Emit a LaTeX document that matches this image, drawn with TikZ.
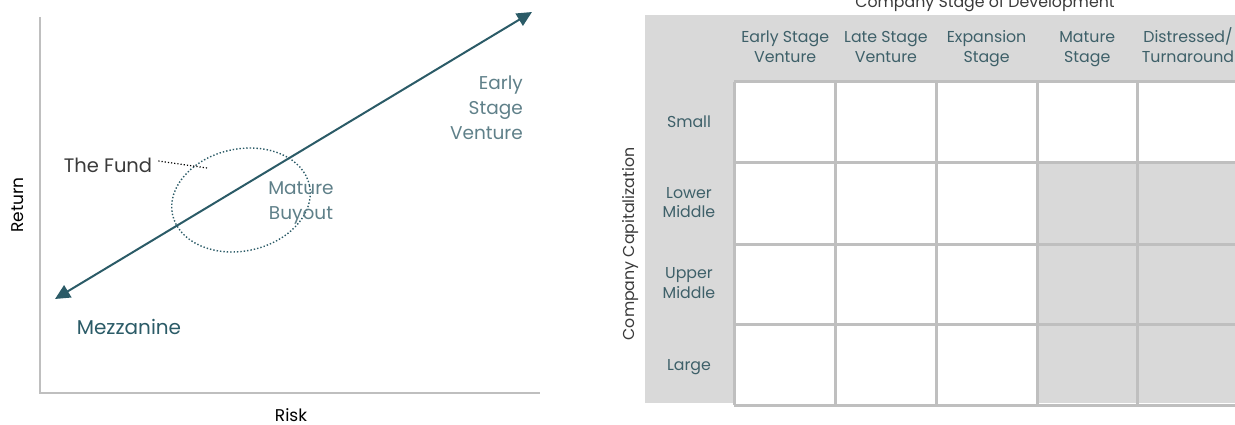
\documentclass[tikz,border=0pt]{standalone}
\usepackage{fontspec}
\setmainfont{Poppins}
\usetikzlibrary{arrows.meta,positioning,shapes.geometric}
\definecolor{deepteal}{HTML}{2B5B67}
\definecolor{softteal}{HTML}{5F8089}
\definecolor{gridteal}{HTML}{3E6069}
\definecolor{axisgray}{HTML}{BFBFBF}
\definecolor{panelgray}{HTML}{D9D9D9}
\definecolor{inkgray}{HTML}{3A3A3A}
\tikzset{
  axisline/.style={draw=axisgray,line width=2.5pt},
  riskline/.style={{Triangle[length=15pt,width=14pt]}-{Triangle[length=15pt,width=14pt]},draw=deepteal,fill=deepteal,line width=2pt},
  fundring/.style={ellipse,draw=deepteal,dotted,line width=1.4pt,minimum width=140pt,minimum height=102pt,rotate=12},
  leader/.style={draw=black,dotted,line width=1.2pt},
  axistitle/.style={font=\fontsize{17}{19}\selectfont,text=black},
  seglabel/.style={font=\fontsize{18.5}{25}\selectfont,text=softteal,align=center},
  gridline/.style={draw=axisgray,line width=3pt},
  hdr/.style={font=\fontsize{15.8}{20}\selectfont,text=gridteal,align=center},
  every node/.style={inner sep=0pt}
}

\begin{document}
\begin{tikzpicture}[x=1pt,y=-1pt]
\useasboundingbox (0,0) rectangle (1235,425);
% risk / return chart
\coordinate (origin) at (40,393);
\coordinate (ytop) at (40,17);
\coordinate (xend) at (540,393);
\draw[axisline] (ytop) -- (origin) -- (xend);
\node[axistitle,rotate=90] (ret) at (18,205) {Return};
\node[axistitle] (risk) at (291,415) {Risk};
\coordinate (lowend) at (55,299);
\coordinate (highend) at (532,12);
\draw[riskline] (lowend) -- (highend);
\node[fundring] (fund) at (241,200) {};
\node[font=\fontsize{19.5}{22}\selectfont,text=inkgray] (fundlbl) at (108,165) {The Fund};
\coordinate (fundtouch) at (207,168);
\draw[leader] ([xshift=6pt,yshift=4pt]fundlbl.east) -- (fundtouch);
\node[seglabel,align=center] (buyout) at (301,203) {Mature\\Buyout};
\node[seglabel,align=right,anchor=east] (early) at (523,108) {Early\\Stage\\Venture};
\node[font=\fontsize{20}{22}\selectfont,text=deepteal] (mezz) at (129,327) {Mezzanine};
% stage / size matrix
\fill[panelgray] (645,15) rectangle (1238,403);
\fill[white] (734,82) rectangle (1238,163);
\fill[white] (734,163) rectangle (1037,405);
\foreach \x in {734,835,936,1037,1137}
  \draw[gridline] (\x,82) -- (\x,405);
\foreach \y in {82,163,244,324,405}
  \draw[gridline] (734,\y) -- (1238,\y);
\node[font=\fontsize{15.8}{18}\selectfont,text=inkgray] (stagettl) at (985,4) {Company Stage of Development};
\node[font=\fontsize{15.8}{18}\selectfont,text=inkgray,rotate=90] (capttl) at (631,244) {Company Capitalization};
\foreach \lbl [count=\i] in {Early Stage\\Venture,Late Stage\\Venture,Expansion\\Stage,Mature\\Stage,Distressed/\\Turnaround}
  \node[hdr,anchor=base] (stage\i) at ({684.5+100.7*\i},63) {\lbl};
\node[hdr,anchor=base] (sizesmall) at (689,128) {Small};
\node[hdr,anchor=base] (sizelower) at (689,218) {Lower\\Middle};
\node[hdr,anchor=base] (sizeupper) at (689,298) {Upper\\Middle};
\node[hdr,anchor=base] (sizelarge) at (689,370) {Large};
\end{tikzpicture}
\end{document}
